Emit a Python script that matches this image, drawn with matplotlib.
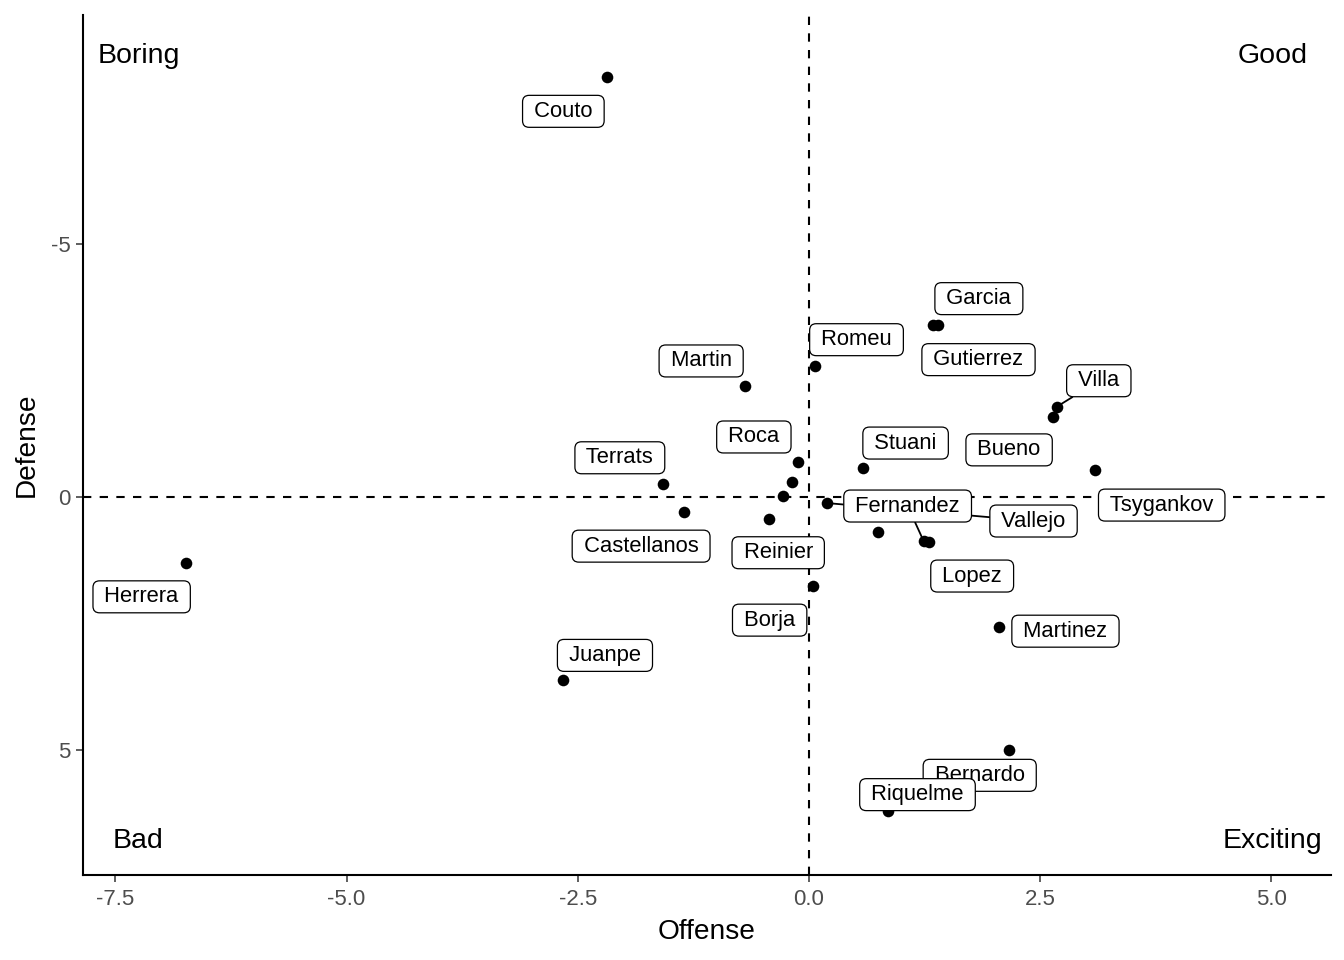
import matplotlib
matplotlib.use("Agg")
import matplotlib.pyplot as plt

plt.rcParams['font.family'] = ['Liberation Sans', 'DejaVu Sans']

# ---- data ----
players = ["Couto", "Herrera", "Juanpe", "Terrats", "Castellanos", "Martin", "Roca",
           "", "", "Reinier", "Borja", "Romeu", "Vallejo", "Stuani", "",
           "Fernandez", "Lopez", "Garcia", "Gutierrez", "Villa", "Bueno",
           "Tsygankov", "Martinez", "Bernardo", "Riquelme"]
offense = [-2.18, -6.74, -2.66, -1.58, -1.35, -0.69, -0.12,
           -0.18, -0.28, -0.43, 0.04, 0.06, 0.19, 0.58, 0.75,
           1.24, 1.30, 1.34, 1.39, 2.68, 2.64,
           3.09, 2.06, 2.16, 0.86]
defense = [-8.28, 1.30, 3.62, -0.26, 0.30, -2.19, -0.69,
           -0.30, -0.02, 0.43, 1.76, -2.59, 0.12, -0.57, 0.69,
           0.87, 0.89, -3.40, -3.40, -1.78, -1.58,
           -0.53, 2.57, 5.00, 6.19]

x_ticks = [-7.5, -5.0, -2.5, 0.0, 2.5, 5.0]
x_tick_labels = ["-7.5", "-5.0", "-2.5", "0.0", "2.5", "5.0"]
y_ticks = [-5, 0, 5]
y_tick_labels = ["-5", "0", "5"]

quadrants = ["Boring", "Good", "Bad", "Exciting"]

# ---- layout (label offsets in screen pixels, y downwards) ----
label_offsets = {
    "Couto": (-44, 34), "Herrera": (-44, 34), "Juanpe": (42, -25),
    "Terrats": (-43, -26), "Castellanos": (-43, 34), "Martin": (-44, -25),
    "Roca": (-44, -25), "Vallejo": (207, 18), "Reinier": (9, 34),
    "Borja": (-43, 34), "Romeu": (42, -26), "Stuani": (43, -25),
    "Fernandez": (-16, -35), "Lopez": (43, 34), "Garcia": (46, -26),
    "Gutierrez": (41, 35), "Villa": (42, -26), "Bueno": (-44, 33),
    "Tsygankov": (67, 35), "Martinez": (66, 4), "Bernardo": (-29, 25),
    "Riquelme": (29, -16),
}
with_segment = {"Vallejo", "Fernandez", "Villa"}
draw_order = ["Couto", "Herrera", "Juanpe", "Terrats", "Castellanos", "Martin",
              "Roca", "Vallejo", "Reinier", "Borja", "Romeu", "Stuani",
              "Fernandez", "Lopez", "Garcia", "Gutierrez", "Villa", "Bueno",
              "Tsygankov", "Martinez", "Bernardo", "Riquelme"]

W, H = 1344, 960
fig = plt.figure(figsize=(W / 100, H / 100), dpi=100)
left, right, top, bottom = 83, 1331, 15, 875
ax = fig.add_axes([left / W, 1 - bottom / H, (right - left) / W, (bottom - top) / H])

ax.set_xlim(-7.85, 5.645)
ax.set_ylim(7.46, -9.51)

ax.axhline(0, color="black", lw=1.5, ls=(0, (4, 4)), zorder=1)
ax.axvline(0, color="black", lw=1.5, ls=(0, (4, 4)), zorder=1)

ax.scatter(offense, defense, s=70, color="black", zorder=2, linewidths=0)

idx = {n: i for i, n in enumerate(players) if n}
for z, name in enumerate(draw_order):
    i = idx[name]
    dx, dy = label_offsets[name]
    arrow = None
    if name in with_segment:
        arrow = dict(arrowstyle="-", color="black", lw=1.3, shrinkA=0, shrinkB=2)
    ax.annotate(" " + name + " ", xy=(offense[i], defense[i]),
                xytext=(dx, -dy), textcoords="offset pixels",
                ha="center", va="center", fontsize=15.8, color="black",
                bbox=dict(boxstyle="round,pad=0.25,rounding_size=0.3",
                          fc="white", ec="black", lw=0.9),
                arrowprops=arrow, zorder=3 + z * 0.01)

q_pos = {"Boring": (-7.25, -8.56), "Good": (5.01, -8.56),
         "Bad": (-7.25, 6.92), "Exciting": (5.01, 6.92)}
for q in quadrants:
    qx, qy = q_pos[q]
    ax.text(qx, qy, q, ha="center", va="baseline", fontsize=20.5, color="black")

for s in ["top", "right"]:
    ax.spines[s].set_visible(False)
for s in ["left", "bottom"]:
    ax.spines[s].set_linewidth(1.5)
    ax.spines[s].set_color("black")

ax.set_xticks(x_ticks)
ax.set_xticklabels(x_tick_labels)
ax.set_yticks(y_ticks)
ax.set_yticklabels(y_tick_labels)
ax.tick_params(axis="both", length=5, width=1.1, color="#333333",
               labelcolor="#4D4D4D", labelsize=16)
ax.tick_params(axis="x", pad=5)
ax.tick_params(axis="y", pad=4)

fig.text(707 / W, 1 - 932 / H, "Offense", ha="center", va="center", fontsize=20.2)
fig.text(27 / W, 1 - 445 / H, "Defense", ha="center", va="center", fontsize=20.2,
         rotation=90)

fig.savefig("out.png", dpi=100, facecolor="white")
